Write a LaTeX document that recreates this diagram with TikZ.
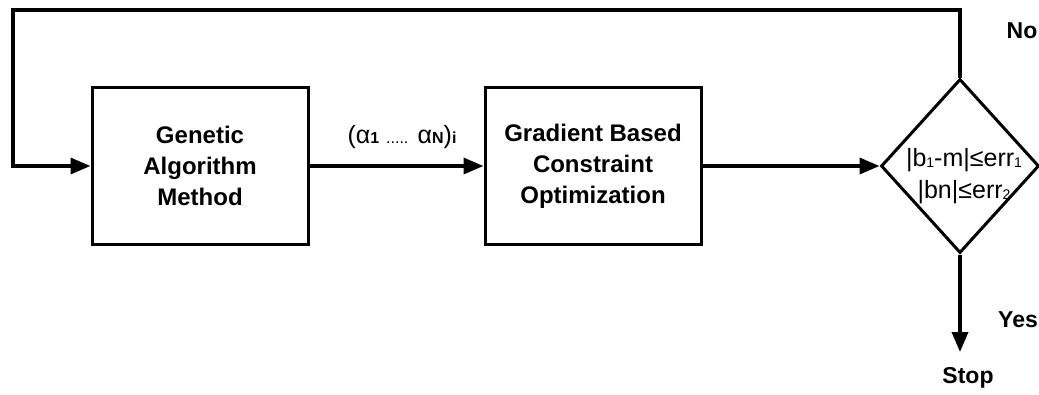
\documentclass[tikz,border=0pt]{standalone}
\usepackage{fontspec}
\setmainfont{Liberation Sans}
\usetikzlibrary{arrows.meta,shapes.geometric}
\newcommand\lsub[1]{\raisebox{-0.1ex}{\fontsize{14}{14}\selectfont #1}}
\newcommand\bsub[1]{{\fontsize{16}{16}\selectfont\bfseries #1}}
\begin{document}
\begin{tikzpicture}[x=1pt,y=-1pt,
  line width=3.5pt,
  box/.style={draw,line width=3pt,minimum width=216pt,minimum height=157pt,align=center,font=\bfseries\fontsize{24}{31}\selectfont},
  dec/.style={draw,diamond,line width=3pt,minimum width=158pt,minimum height=174pt,inner sep=0pt},
  dtext/.style={align=center,inner sep=0pt,font=\fontsize{25}{32}\selectfont},
  lbl/.style={font=\bfseries\fontsize{23}{26}\selectfont},
  arr/.style={-{Triangle[length=20pt,width=16pt]}}]
\useasboundingbox (0,0) rectangle (1039,394);
\node[box] (ga) at (200,166) {Genetic\\Algorithm\\Method};
\node[box] (gb) at (593,166) {Gradient Based\\Constraint\\Optimization};
\node[dec] (d) at (960,166) {};
\node[dtext] (dt) at (964,176) {|b\lsub{1}-m|≤err\lsub{1}\\|bn|≤err\lsub{2}};
\coordinate (top) at (960,10);
\coordinate (tl) at (13,10);
\coordinate (bl) at (13,166);
\coordinate (stop) at (960,352);
\draw[arr] (ga) -- (gb);
\draw[arr] (gb) -- (d);
\draw[arr] (d.north) -- (top) -- (tl) -- (bl) -- (ga);
\draw[arr] (d.south) -- (stop);
\node[font=\fontsize{25}{28}\selectfont] (lab) at (402,137) {(α\bsub{1} {\fontsize{16}{16}\selectfont.....} α\bsub{N})\bsub{i}};
\node[lbl] (no) at (1022,31) {No};
\node[lbl] (yes) at (1018,320) {Yes};
\node[lbl] (st) at (968,378) {Stop};
\end{tikzpicture}
\end{document}
